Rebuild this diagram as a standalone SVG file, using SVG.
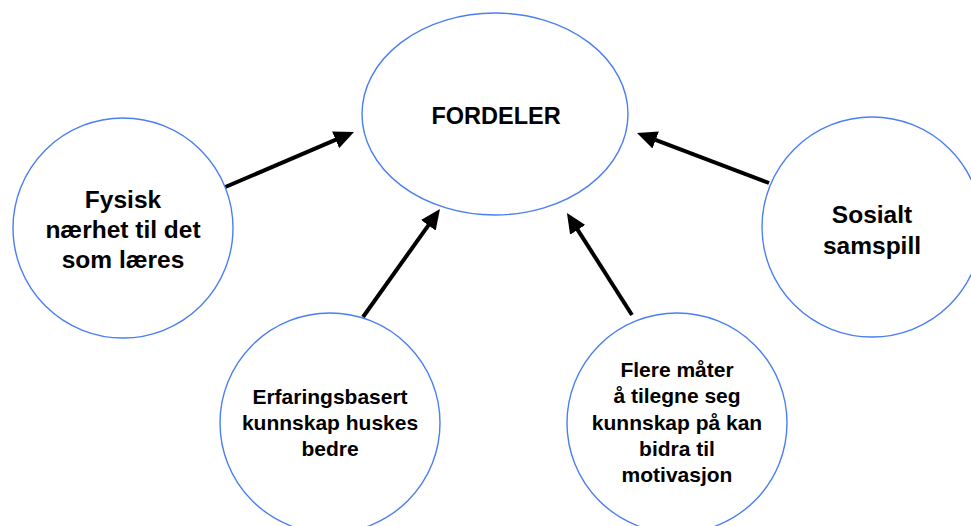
<svg xmlns="http://www.w3.org/2000/svg" width="971" height="526" viewBox="0 0 971 526">
  <style>
    .node { fill: #ffffff; stroke: #4a7ef2; stroke-width: 1.4; }
    .lbl { font-family: "Liberation Sans", Arial, sans-serif; font-weight: bold; fill: #000000; text-anchor: middle; }
    .title { font-size: 23.5px; }
    .big { font-size: 24.5px; }
    .small { font-size: 21px; }
    .edge { stroke: #000000; stroke-width: 4; fill: none; marker-end: url(#head); }
  </style>
  <defs>
    <marker id="head" viewBox="0 0 20 18" refX="8" refY="9" markerWidth="20" markerHeight="18" markerUnits="userSpaceOnUse" orient="auto">
      <path d="M0,0 L20,9 L0,18 z" fill="#000000"/>
    </marker>
  </defs>
  <rect width="971" height="526" fill="#ffffff"/>

  <g id="connectors">
    <path class="edge" d="M223,188 L343,136.7"/>
    <path class="edge" d="M363,317 L433,218.8"/>
    <path class="edge" d="M632,315 L573.4,223.1"/>
    <path class="edge" d="M769,183 L648.2,137.2"/>
  </g>

  <g id="fordeler">
    <ellipse class="node" cx="495" cy="114" rx="133" ry="101"/>
    <text class="lbl title" x="496" y="124">FORDELER</text>
  </g>

  <g id="fysisk">
    <circle class="node" cx="123" cy="228" r="110"/>
    <text class="lbl big" x="123" y="208">Fysisk</text>
    <text class="lbl big" x="123" y="238">nærhet til det</text>
    <text class="lbl big" x="123" y="268">som læres</text>
  </g>

  <g id="sosialt">
    <circle class="node" cx="872" cy="227" r="110"/>
    <text class="lbl big" x="872" y="223">Sosialt</text>
    <text class="lbl big" x="872" y="254">samspill</text>
  </g>

  <g id="erfaring">
    <circle class="node" cx="330" cy="423" r="110"/>
    <text class="lbl small" x="330" y="404">Erfaringsbasert</text>
    <text class="lbl small" x="330" y="430">kunnskap huskes</text>
    <text class="lbl small" x="330" y="456">bedre</text>
  </g>

  <g id="flere">
    <circle class="node" cx="677" cy="423" r="110"/>
    <text class="lbl small" x="677" y="377">Flere måter</text>
    <text class="lbl small" x="677" y="403">å tilegne seg</text>
    <text class="lbl small" x="677" y="430">kunnskap på kan</text>
    <text class="lbl small" x="677" y="456">bidra til</text>
    <text class="lbl small" x="677" y="482">motivasjon</text>
  </g>
</svg>
